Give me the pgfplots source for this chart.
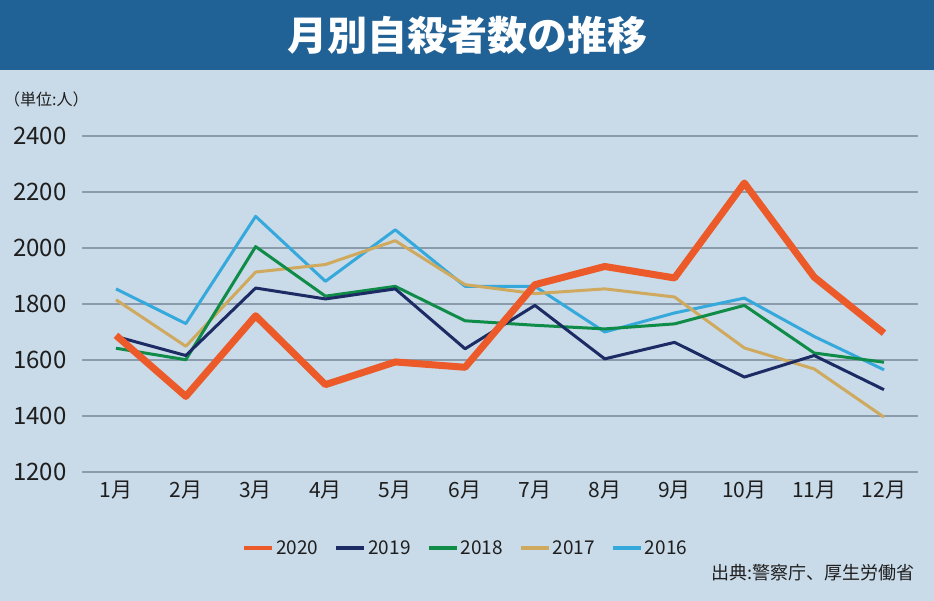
\documentclass[border=0pt]{standalone}
\usepackage{pgfplots}
\pgfplotsset{compat=1.18}
\usepackage{pgfplotstable}
\usepackage{fontspec}
\setmainfont{Noto Sans CJK JP}
\definecolor{bgc}{RGB}{201,218,232}
\definecolor{barc}{RGB}{32,97,150}
\definecolor{gridc}{RGB}{138,156,172}
\definecolor{c2020}{RGB}{235,90,40}
\definecolor{c2019}{RGB}{28,43,100}
\definecolor{c2018}{RGB}{15,140,72}
\definecolor{c2017}{RGB}{207,170,94}
\definecolor{c2016}{RGB}{54,169,220}
\definecolor{txt}{RGB}{30,30,30}
\pgfplotstableread{
m y2020 y2019 y2018 y2017 y2016
1 1688 1684 1642 1815 1854
2 1470 1616 1601 1649 1730
3 1758 1857 2005 1914 2113
4 1512 1818 1828 1941 1881
5 1593 1854 1863 2026 2065
6 1574 1640 1740 1869 1863
7 1869 1795 1724 1837 1863
8 1934 1604 1711 1854 1700
9 1893 1663 1729 1825 1768
10 2232 1539 1795 1643 1821
11 1896 1616 1625 1568 1684
12 1696 1494 1592 1396 1565
}\datatable
\begin{document}
\begin{tikzpicture}
\fill[bgc] (0pt,0pt) rectangle (934pt,601pt);
\fill[barc] (0pt,531pt) rectangle (934pt,601pt);
\node[text=white,font=\fontsize{40}{44}\selectfont\bfseries] at (467pt,566pt) {月別自殺者数の推移};
\node[anchor=west,text=txt,font=\fontsize{16}{18}\selectfont,inner sep=0pt] at (4pt,502pt) {（単位:人）};
\node[anchor=east,text=txt,font=\fontsize{18}{20}\selectfont,inner sep=0pt] at (915pt,28pt) {出典:警察庁、厚生労働省};
\begin{axis}[
  at={(82pt,129pt)}, anchor=south west,
  scale only axis, width=836pt, height=336pt,
  xmin=0.513, xmax=12.487, ymin=1200, ymax=2400,
  ytick={1200,1400,...,2400},
  xtick={1,...,12},
  xticklabels={1月,2月,3月,4月,5月,6月,7月,8月,9月,10月,11月,12月},
  axis line style={draw=none},
  major tick length=0pt,
  ymajorgrids, grid style={gridc, line width=1.3pt},
  /pgf/number format/assume math mode=true,
  /pgf/number format/1000 sep={},
  yticklabel style={font=\fontsize{24}{26}\selectfont, text=txt, xshift=-12pt},
  xticklabel style={font=\fontsize{21}{24}\selectfont, text=txt, yshift=-5pt},
  legend columns=5,
  reverse legend,
  legend style={at={(0.459,-0.226)}, anchor=center, draw=none, fill=none,
    font=\fontsize{19}{22}\selectfont, text=txt,
    /tikz/every even column/.append style={column sep=14pt}},
  legend image code/.code={\draw[#1, line width=4pt] (0pt,0pt) -- (28pt,0pt);},
  line join=round,
]
\addplot[c2016, line width=3pt] table[x=m,y=y2016] {\datatable};
\addlegendentry{2016}
\addplot[c2017, line width=3pt] table[x=m,y=y2017] {\datatable};
\addlegendentry{2017}
\addplot[c2018, line width=3pt] table[x=m,y=y2018] {\datatable};
\addlegendentry{2018}
\addplot[c2019, line width=3pt] table[x=m,y=y2019] {\datatable};
\addlegendentry{2019}
\addplot[c2020, line width=7pt] table[x=m,y=y2020] {\datatable};
\addlegendentry{2020}
\end{axis}
\end{tikzpicture}
\end{document}
